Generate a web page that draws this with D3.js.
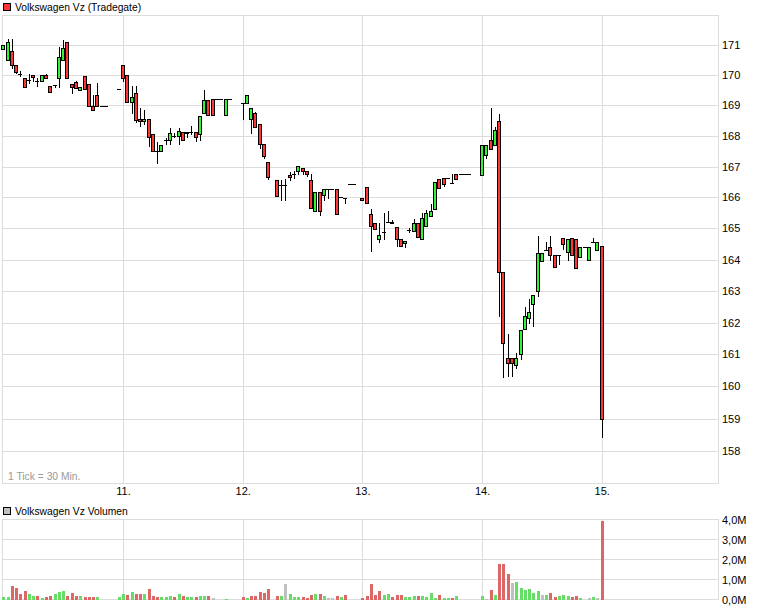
<!DOCTYPE html>
<html><head><meta charset="utf-8">
<script src="https://cdn.jsdelivr.net/npm/d3@7"></script>
<style>
body{margin:0;background:#fff}
svg{display:block}
text{font-family:"Liberation Sans",Arial,sans-serif;fill:#000}
</style>
</head><body>
<svg id="chart" width="760" height="608"></svg>
<script>
// ---------- data (30-min slots, 28 per trading day, day 10 starts at slot 0) ----------
const slots = [0,1,2,3,4,5,6,7,8,9,10,11,12,13,14,15,16,17,18,19,20,21,22,23,24,27,
  28,29,30,31,32,33,34,35,36,37,38,39,40,41,42,43,44,45,46,47,48,49,50,51,52,53,
  56,57,58,59,60,61,62,64,65,66,67,68,69,70,71,72,73,74,75,76,77,78,79,80,81,82,
  84,85,86,87,88,89,90,91,92,93,94,95,96,97,98,99,100,101,102,103,104,105,106,107,108,109,
  112,113,114,115,116,117,118,119,120,121,122,123,124,125,126,127,128,129,130,131,132,133,134,135,136,137,138,139,140];
const opens = [170.87,170.50,170.79,170.34,170.05,169.90,169.83,170.00,169.82,169.82,169.99,169.63,169.69,169.90,170.50,171.09,169.70,169.77,169.50,169.96,169.70,168.98,169.33,168.98,168.98,169.53,
  170.33,170.00,169.10,169.40,168.57,168.48,168.55,168.05,167.50,167.52,167.87,167.88,168.01,167.99,168.14,168.14,168.14,168.14,168.05,168.74,169.17,169.20,169.20,169.20,168.68,169.20,
  169.07,169.07,168.57,168.74,168.38,167.72,167.15,166.57,166.41,166.41,166.74,166.76,166.86,166.96,166.86,166.56,165.57,166.18,166.09,166.28,166.28,166.28,166.00,165.98,166.45,166.45,
  165.97,166.35,165.46,165.18,164.67,164.90,165.20,165.22,165.03,164.66,164.52,164.95,164.93,165.17,164.66,165.08,165.40,165.63,166.60,166.63,166.63,166.48,166.75,166.75,166.75,166.75,
  166.74,167.39,167.88,167.69,168.48,163.61,160.90,160.88,160.66,161.00,161.80,162.14,162.60,163.00,163.96,164.32,164.40,164.14,164.16,164.70,164.23,164.70,164.67,164.09,164.40,163.98,164.57,164.30,164.45];
const highs = [171.00,171.20,171.20,170.34,170.13,169.90,170.03,170.00,169.90,169.99,170.03,169.63,169.69,170.92,171.16,171.09,169.70,169.80,169.62,169.96,169.70,169.33,169.74,168.98,168.98,169.53,
  170.33,170.00,169.63,169.63,168.90,168.85,168.55,168.05,167.80,167.70,167.93,168.25,168.08,168.25,168.14,168.14,168.33,168.14,168.65,169.50,169.17,169.20,169.20,169.20,169.20,169.20,
  169.07,169.33,168.90,168.79,168.38,167.72,167.15,166.57,166.57,166.60,166.81,166.87,167.02,166.96,166.86,166.76,166.18,166.18,166.28,166.28,166.28,166.28,166.00,165.98,166.45,166.45,
  165.97,166.35,165.64,165.18,165.17,165.50,165.55,165.28,165.03,164.66,164.61,165.00,165.30,165.17,165.50,165.60,165.80,166.51,166.60,166.63,166.63,166.75,166.75,166.75,166.75,166.75,
  167.69,167.69,168.92,168.30,168.72,163.61,161.63,160.88,161.06,161.77,162.50,162.74,162.88,164.75,164.21,164.57,164.75,164.14,164.16,164.70,164.67,164.70,164.67,164.40,164.40,164.40,164.70,164.57,164.45];
const lows = [170.87,170.50,170.23,170.06,169.98,169.62,169.75,169.80,169.64,169.82,169.90,169.43,169.60,169.62,170.50,169.90,169.40,169.57,169.50,169.55,168.98,168.84,168.98,168.98,168.98,169.53,
  169.82,169.10,168.74,168.47,168.33,168.40,167.67,167.52,167.10,167.52,167.75,167.75,167.95,167.75,167.88,167.95,168.05,167.83,167.88,168.74,168.68,168.68,169.20,169.20,168.68,169.20,
  168.57,169.07,168.08,168.30,167.60,167.27,166.61,166.06,165.90,165.90,166.57,166.63,166.76,166.76,166.70,165.65,165.57,165.43,165.90,165.98,166.28,165.46,166.00,165.82,166.45,166.45,
  165.90,165.83,164.27,164.99,164.55,164.67,165.20,165.16,164.44,164.45,164.42,164.90,164.93,164.74,164.66,165.08,165.40,165.63,166.31,166.38,166.63,166.48,166.58,166.75,166.75,166.75,
  166.74,167.29,167.58,167.69,162.20,160.30,160.33,160.31,160.56,160.87,161.80,161.98,161.90,162.85,163.96,164.32,163.98,163.77,163.87,164.35,163.98,164.16,163.74,164.09,164.40,163.98,164.57,164.30,158.42];
const closes = [171.00,171.09,170.34,170.10,170.05,169.62,169.83,169.93,169.82,169.99,169.90,169.43,169.69,170.60,170.89,169.90,169.62,169.57,169.62,169.55,168.98,168.84,168.98,168.98,168.98,169.53,
  169.90,169.10,169.28,168.52,168.48,168.57,167.95,167.52,167.50,167.70,167.87,168.08,168.01,168.16,167.88,168.08,168.14,167.95,168.65,169.17,168.68,168.68,169.20,169.20,169.20,169.20,
  169.07,169.33,168.90,168.30,167.72,167.36,166.66,166.06,166.41,166.41,166.65,166.76,167.02,166.86,166.76,165.65,166.18,165.57,166.28,166.28,166.28,165.46,166.00,165.98,166.45,166.45,
  165.90,165.83,165.08,164.99,164.78,164.90,165.20,165.16,164.66,164.45,164.61,164.95,165.17,164.74,165.34,165.49,165.55,166.51,166.31,166.44,166.63,166.48,166.58,166.75,166.75,166.75,
  167.69,167.69,167.58,168.18,163.61,161.37,160.73,160.73,160.90,161.77,162.20,162.34,162.88,164.21,164.21,164.32,164.14,163.77,164.16,164.51,164.67,164.16,163.74,164.40,164.40,164.40,164.57,164.57,158.98];
// volume in millions, and bar colour code (u = up, d = down, n = unchanged)
const volumes = [0.12,0.12,0.67,0.57,0.27,0.42,0.27,0.18,0.17,0.07,0.10,0.17,0.27,0.37,0.42,0.17,0.32,0.18,0.18,0.10,0.15,0.10,0.12,0,0,0.13,
  0.27,0.22,0.40,0.27,0.27,0.27,0.52,0.17,0.13,0.15,0.12,0.20,0.15,0.27,0.17,0.15,0.12,0.15,0.17,0.20,0.17,0.07,0,0,0.05,0,
  0.12,0.07,0.17,0.18,0.35,0.33,0.52,0.18,0.18,0.77,0.27,0.12,0.12,0.12,0.07,0.22,0.27,0.27,0.17,0.07,0.07,0.17,0.12,0.22,0,0,
  0.07,0.20,0.77,0.22,0.42,0.25,0.27,0.13,0.22,0.22,0.12,0.12,0.17,0.17,0.17,0.15,0.32,0.07,0.22,0.07,0.07,0.07,0.17,0,0,0,
  0.17,0.02,0.47,0.22,1.77,1.77,1.27,0.83,0.87,0.57,0.47,0.52,0.32,0.42,0.22,0.22,0.32,0.12,0.17,0.22,0.17,0.12,0.17,0.07,0,0.07,0.12,0.07,3.92];
const volDir = ["u","u","d","d","d","d","u","u","d","u","d","d","u","u","u","d","d","d","u","d","d","d","u","n","n","u",
  "u","d","u","d","d","u","d","d","d","u","u","u","d","u","d","u","u","d","u","u","d","n","u","n","u","n",
  "d","u","d","d","d","d","d","d","u","n","u","u","u","d","d","d","u","d","u","n","n","d","u","d","u","n",
  "d","d","d","d","d","u","u","d","d","d","u","u","u","d","u","u","u","u","d","u","u","d","u","u","n","n",
  "u","n","d","u","d","d","d","n","u","u","u","u","u","u","n","u","d","d","u","u","u","d","d","u","n","n","u","n","d"];
const dayLabels = ["11.","12.","13.","14.","15."];
const daySlots = [28,56,84,112,140];
const priceTicks = [158,159,160,161,162,163,164,165,166,167,168,169,170,171];
const volTicks = [0,1,2,3,4];
const volTickLabels = ["0,0M","1,0M","2,0M","3,0M","4,0M"];

// ---------- layout ----------
const svg = d3.select("#chart");
const L = 3, R = 718, T = 15, B = 483;
const VT = 519.5, VB = 599.5;
const x = d3.scaleLinear().domain([0, 167.2]).range([3.3, 718]);
const y = d3.scaleLog().domain([157, 172]).range([483.6, 15.1]);
const yv = d3.scaleLinear().domain([0, 4]).range([VB, VT]);
const gridCol = "#dcdcdc";
const UP = "#33f433", DN = "#ff3636";
const VCOL = {u:"#66dd66", d:"#dd6666", n:"#c0c0c0"};

svg.append("rect").attr("width",760).attr("height",608).attr("fill","#fff");

// main panel grid
const g = svg.append("g");
g.selectAll(".hg").data(priceTicks).join("line")
  .attr("x1",L).attr("x2",R)
  .attr("y1",d=>Math.round(y(d))+0.5).attr("y2",d=>Math.round(y(d))+0.5)
  .attr("stroke",gridCol);
g.selectAll(".vg").data(daySlots).join("line")
  .attr("x1",d=>Math.round(x(d))+0.5).attr("x2",d=>Math.round(x(d))+0.5)
  .attr("y1",T).attr("y2",B)
  .attr("stroke",gridCol);
g.append("rect").attr("x",L-0.5).attr("y",T+0.5).attr("width",R-L+1).attr("height",B-T)
  .attr("fill","none").attr("stroke",gridCol);

// volume panel grid
const gv = svg.append("g");
gv.selectAll("line.h").data(volTicks).join("line")
  .attr("x1",L).attr("x2",R)
  .attr("y1",d=>Math.round(yv(d)-0.5)+0.5).attr("y2",d=>Math.round(yv(d)-0.5)+0.5)
  .attr("stroke",gridCol);
gv.selectAll("line.v").data(daySlots).join("line")
  .attr("x1",d=>Math.round(x(d))+0.5).attr("x2",d=>Math.round(x(d))+0.5)
  .attr("y1",VT).attr("y2",VB)
  .attr("stroke",gridCol);
gv.append("rect").attr("x",L-0.5).attr("y",VT).attr("width",R-L+1).attr("height",VB-VT)
  .attr("fill","none").attr("stroke",gridCol);

// candles (pixel-exact: 4px black outline box, 2px coloured fill, 1px wick)
const candles = slots.map((s,i)=>({s,o:opens[i],h:highs[i],l:lows[i],c:closes[i],v:volumes[i],d:volDir[i]}));
const cg = svg.append("g").attr("shape-rendering","crispEdges");
candles.forEach(k=>{
  const cx = Math.round(x(k.s));
  const yh = Math.round(y(k.h)), yl = Math.round(y(k.l));
  const top = Math.round(y(Math.max(k.o,k.c))), bot = Math.round(y(Math.min(k.o,k.c)));
  if (yl > yh) cg.append("rect").attr("x",cx).attr("y",yh).attr("width",1).attr("height",yl-yh+1).attr("fill","#000");
  if (bot - top < 1) {
    cg.append("rect").attr("x",cx-2).attr("y",top).attr("width",4).attr("height",1).attr("fill","#000");
  } else {
    cg.append("rect").attr("x",cx-2).attr("y",top).attr("width",4).attr("height",bot-top+1).attr("fill","#000");
    if (bot - top >= 2)
      cg.append("rect").attr("x",cx-1).attr("y",top+1).attr("width",2).attr("height",bot-top-1)
        .attr("fill",k.c>k.o?UP:DN);
  }
});

// volume bars
svg.append("g").attr("shape-rendering","crispEdges")
  .selectAll("rect").data(candles.filter(k=>k.v>0)).join("rect")
  .attr("x",k=>Math.round(x(k.s))-1).attr("width",3)
  .attr("y",k=>Math.round(yv(k.v))).attr("height",k=>VB+0.5-Math.round(yv(k.v)))
  .attr("fill",k=>VCOL[k.d]);

// axes labels
const ay = d3.axisRight(y).tickValues(priceTicks).tickFormat(d3.format("d")).tickSize(0).tickPadding(0);
svg.append("g").attr("transform",`translate(722,0)`).call(ay)
  .call(s=>s.select(".domain").remove())
  .selectAll("text").attr("font-size",11).attr("font-family","Liberation Sans, Arial, sans-serif").attr("fill","#000");
const av = d3.axisRight(yv).tickValues(volTicks).tickFormat((d,i)=>volTickLabels[i]).tickSize(0).tickPadding(0);
svg.append("g").attr("transform",`translate(722,0)`).call(av)
  .call(s=>s.select(".domain").remove())
  .selectAll("text").attr("font-size",11).attr("font-family","Liberation Sans, Arial, sans-serif").attr("fill","#000");
const ax = d3.axisBottom(x).tickValues(daySlots).tickFormat((d,i)=>dayLabels[i]).tickSize(0).tickPadding(0);
svg.append("g").attr("transform",`translate(0,487)`).call(ax)
  .call(s=>s.select(".domain").remove())
  .selectAll("text").attr("font-size",11).attr("font-family","Liberation Sans, Arial, sans-serif").attr("fill","#000");

// legends and note
svg.append("rect").attr("x",3.5).attr("y",3.5).attr("width",7).attr("height",7).attr("fill",DN).attr("stroke","#000");
svg.append("text").attr("x",15).attr("y",11).attr("font-size",10.3).text("Volkswagen Vz (Tradegate)");
svg.append("rect").attr("x",3.5).attr("y",507.5).attr("width",7).attr("height",7).attr("fill","#c0c0c0").attr("stroke","#000");
svg.append("text").attr("x",15).attr("y",515).attr("font-size",10.3).text("Volkswagen Vz Volumen");
svg.append("text").attr("x",8).attr("y",480).attr("font-size",10.3).attr("fill","#999").style("fill","#999").text("1 Tick = 30 Min.");
</script>
</body></html>
